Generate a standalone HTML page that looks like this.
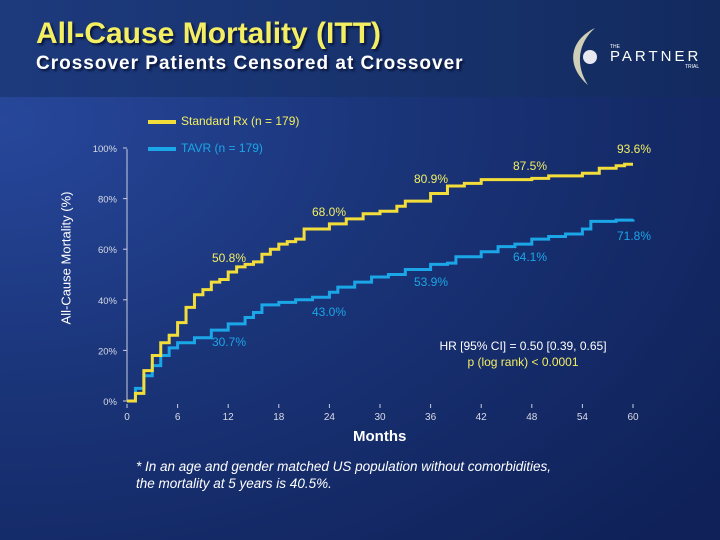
<!DOCTYPE html>
<html><head><meta charset="utf-8"><style>
html,body{margin:0;padding:0}
body{width:720px;height:540px;overflow:hidden;position:relative;font-family:"Liberation Sans",sans-serif;
background:radial-gradient(ellipse 900px 600px at 0px 120px,#27479b 0%,#1a3478 45%,#0f2158 100%)}
#hdr{position:absolute;left:0;top:0;width:720px;height:97px;background:linear-gradient(90deg,#1d3a7d,#163068 70%,#122a5e)}
</style></head><body>
<div id="hdr"></div>
<div style="position:absolute;left:36px;top:17px;font-size:30px;font-weight:bold;color:#f3ee62;white-space:nowrap;text-shadow:2px 2px 2px #0a1438">All-Cause Mortality (ITT)</div>
<div style="position:absolute;left:36px;top:53px;font-size:19px;font-weight:bold;color:#fff;letter-spacing:1px;white-space:nowrap;text-shadow:2px 2px 2px #0a1438">Crossover Patients Censored at Crossover</div>
<svg style="position:absolute;left:560px;top:25px" width="150" height="65">
<path d="M35 3 C10 15 5 40 28 60 C15 40 18 18 35 3Z" fill="#cfcfb8"/>
<circle cx="30" cy="32" r="7" fill="#e8e8f0"/>
<text x="50" y="23" font-size="5" fill="#fff" font-family="Liberation Sans">THE</text>
<text x="50" y="36" font-size="15" fill="#fff" letter-spacing="3" font-family="Liberation Sans">PARTNER</text>
<text x="125" y="43" font-size="5" fill="#fff" font-family="Liberation Sans">TRIAL</text>
</svg>
<svg id="chart" width="720" height="540" style="position:absolute;left:0;top:0" font-family="Liberation Sans, sans-serif"></svg>
<script>
const xTicks=[0,6,12,18,24,30,36,42,48,54,60];
const yTicks=[0,20,40,60,80,100];
const stdMonths=[0,1,2,3,4,5,6,7,8,9,10,11,12,13,14,15,16,17,18,19,20,21,22,24,26,28,30,32,33,36,38,40,42,48,50,54,56,58,59,60];
const stdValues=[0,3,12,18,23,26,31,37,42,44,47,48,51,53,54,55,58,60,62,63,64,68,68,70,72,74,75,77,79,82,85,86,87.5,88,89,90,92,93,93.6,93.6];
const tavrMonths=[0,1,2,3,4,5,6,8,10,12,14,15,16,18,20,22,24,25,27,29,31,33,36,38,39,42,44,46,48,50,52,54,55,58,60];
const tavrValues=[0,5,10,14,18,21,23,25,28,30.5,33,35,38,39,40,41,43,45,47,49,50,52,54,54.5,57,59,61,62,64,65,66,68,71,71.5,71.8];
const NS='http://www.w3.org/2000/svg';
const svg=document.getElementById('chart');
const X=m=>127+m*(633-127)/60;
const Y=v=>401-v*(401-148)/100;
function el(t,a,txt){const e=document.createElementNS(NS,t);for(const k in a)e.setAttribute(k,a[k]);if(txt!==undefined)e.textContent=txt;svg.appendChild(e);return e;}
let e;
e=el('line',{x1:X(0),y1:Y(0),x2:X(0),y2:Y(100)+1,stroke:'#c8cde0','stroke-width':1});


yTicks.forEach(v=>{
 const l=el('line',{x1:X(0)-4,x2:X(0),y1:Y(v),y2:Y(v),stroke:'#c8cde0'});
 
 
 const t=el('text',{x:X(0)-10,y:Y(v)+4,'font-size':9.5,fill:'#d8dbe6','text-anchor':'end'},v+'%');
 
 
});
xTicks.forEach(m=>{
 const l=el('line',{x1:X(m),x2:X(m),y1:Y(0)+3,y2:Y(0)+7,stroke:'#c8cde0'});
 
 
 const t=el('text',{x:X(m),y:Y(0)+19,'font-size':10,fill:'#d8dbe6','text-anchor':'middle'},m);
 
 
});
function step(ms,vs){let d='M'+X(ms[0])+' '+Y(vs[0]);for(let i=1;i<ms.length;i++){d+=' H'+X(ms[i])+' V'+Y(vs[i]);}return d;}
e=el('path',{d:step(tavrMonths,tavrValues),fill:'none',stroke:'#1ba6e8','stroke-width':3});


e=el('path',{d:step(stdMonths,stdValues),fill:'none',stroke:'#f3dd3a','stroke-width':3});


const ann=[['50.8%',229,262,'#f3ee62'],['68.0%',329,216,'#f3ee62'],['80.9%',431,183,'#f3ee62'],['87.5%',530,170,'#f3ee62'],['93.6%',634,153,'#f3ee62'],
['30.7%',229,346,'#1ba6e8'],['43.0%',329,316,'#1ba6e8'],['53.9%',431,286,'#1ba6e8'],['64.1%',530,261,'#1ba6e8'],['71.8%',634,240,'#1ba6e8']];
ann.forEach(a=>{const t=el('text',{x:a[1],y:a[2],'font-size':12,fill:a[3],'text-anchor':'middle'},a[0]);
 
 });
e=el('text',{x:523,y:350,'font-size':12,fill:'#fff','text-anchor':'middle'},'HR [95% CI] = 0.50 [0.39, 0.65]');


e=el('text',{x:523,y:366,'font-size':12,fill:'#f3ee62','text-anchor':'middle'},'p (log rank) < 0.0001');


</script>
<div style="position:absolute;left:148px;top:114px;font-size:12px;color:#f3ee62;white-space:nowrap"><span style="display:inline-block;width:28px;height:4px;background:#f3dd3a;vertical-align:middle;margin-right:5px"></span>Standard Rx (n = 179)</div>
<div style="position:absolute;left:148px;top:141px;font-size:12px;color:#1ba6e8;white-space:nowrap"><span style="display:inline-block;width:28px;height:4px;background:#1ba6e8;vertical-align:middle;margin-right:5px"></span>TAVR (n = 179)</div>
<div style="position:absolute;left:66px;top:258px;transform:translate(-50%,-50%) rotate(-90deg);font-size:13px;color:#fff;white-space:nowrap">All-Cause Mortality (%)</div>
<div style="position:absolute;left:353px;top:428px;font-size:15px;font-weight:bold;color:#fff">Months</div>
<div style="position:absolute;left:136px;top:458px;font-size:13.5px;font-style:italic;color:#fff;line-height:17px;white-space:nowrap">* In an age and gender matched US population without comorbidities,<br>the mortality at 5 years is 40.5%.</div>
</body></html>
